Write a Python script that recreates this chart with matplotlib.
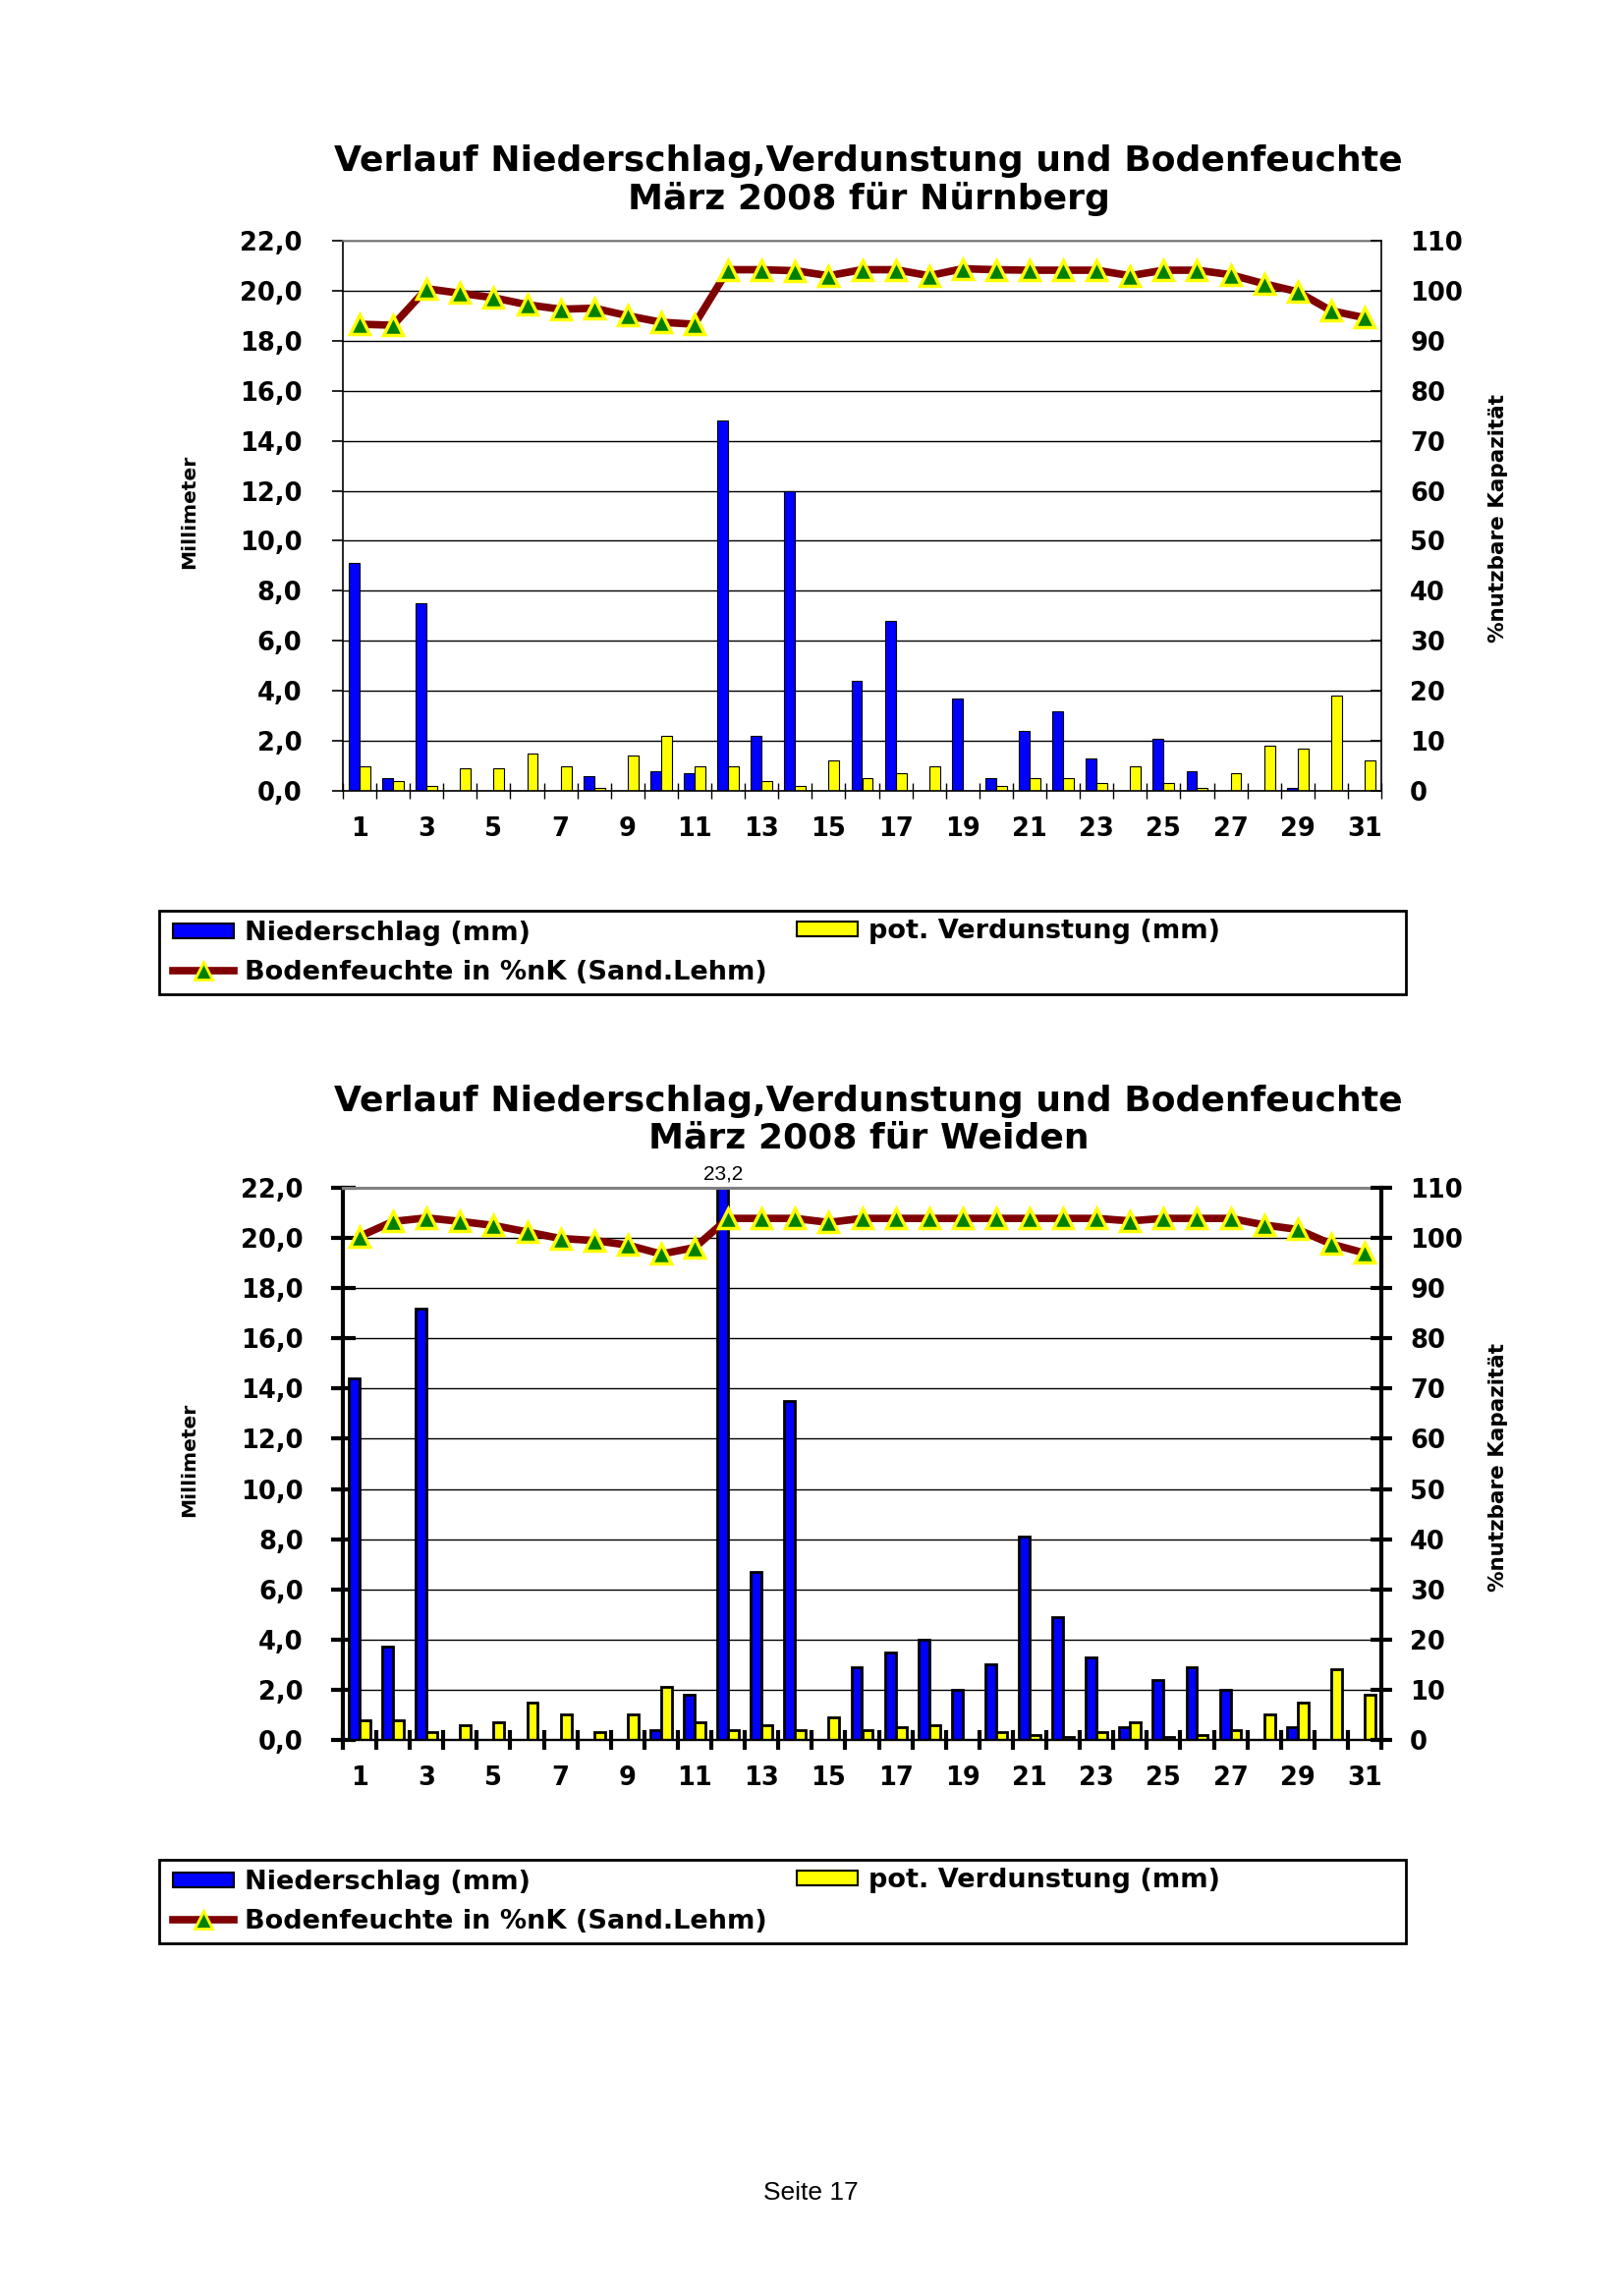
import numpy as np
import matplotlib.pyplot as plt
from matplotlib.patches import Patch, Rectangle
from matplotlib.lines import Line2D

# Tage im März 2008
days = np.arange(1, 32)

# Nürnberg
nbg_niederschlag = [9.1, 0.5, 7.5, 0.0, 0.0, 0.0, 0.0, 0.6, 0.0, 0.8, 0.7, 14.8, 2.2, 12.0, 0.0, 4.4,
                    6.8, 0.0, 3.7, 0.5, 2.4, 3.2, 1.3, 0.0, 2.1, 0.8, 0.0, 0.0, 0.1, 0.0, 0.0]
nbg_verdunstung = [1.0, 0.4, 0.2, 0.9, 0.9, 1.5, 1.0, 0.1, 1.4, 2.2, 1.0, 1.0, 0.4, 0.2, 1.2, 0.5,
                   0.7, 1.0, 0.0, 0.2, 0.5, 0.5, 0.3, 1.0, 0.3, 0.1, 0.7, 1.8, 1.7, 3.8, 1.2]
nbg_bodenfeuchte = [93.3, 93.1, 100.4, 99.5, 98.6, 97.2, 96.3, 96.5, 95.0, 93.7, 93.3, 104.2, 104.2,
                    104.0, 103.0, 104.2, 104.2, 103.0, 104.4, 104.2, 104.1, 104.1, 104.1, 103.0,
                    104.1, 104.1, 103.2, 101.4, 99.8, 96.0, 94.6]

# Weiden
wei_niederschlag = [14.4, 3.7, 17.2, 0.0, 0.0, 0.0, 0.0, 0.0, 0.0, 0.4, 1.8, 23.2, 6.7, 13.5, 0.0, 2.9,
                    3.5, 4.0, 2.0, 3.0, 8.1, 4.9, 3.3, 0.5, 2.4, 2.9, 2.0, 0.0, 0.5, 0.0, 0.0]
wei_verdunstung = [0.8, 0.8, 0.3, 0.6, 0.7, 1.5, 1.0, 0.3, 1.0, 2.1, 0.7, 0.4, 0.6, 0.4, 0.9, 0.4,
                   0.5, 0.6, 0.0, 0.3, 0.2, 0.1, 0.3, 0.7, 0.1, 0.2, 0.4, 1.0, 1.5, 2.8, 1.8]
wei_bodenfeuchte = [100.3, 103.3, 104.0, 103.3, 102.5, 101.2, 99.9, 99.5, 98.6, 96.8, 98.1, 103.9,
                    103.9, 103.9, 103.1, 103.9, 103.9, 103.9, 103.9, 103.9, 103.9, 103.9, 103.9,
                    103.4, 103.9, 103.9, 103.9, 102.6, 101.7, 98.8, 97.0]

title_1 = 'Verlauf Niederschlag,Verdunstung und Bodenfeuchte'
label_nied = 'Niederschlag (mm)'
label_verd = 'pot. Verdunstung (mm)'
label_boden = 'Bodenfeuchte in %nK (Sand.Lehm)'

W, H = 1653, 2337
BLUE = '#0000FF'
YELLOW = '#FFFF00'
DARKRED = '#800000'
GREEN = '#008000'


def fx(px):
    return px / W


def fy(py):
    return 1 - py / H


def mm_fmt(v):
    return f'{v:.1f}'.replace('.', ',')


def draw_chart(fig, top, bottom, station, nied, verd, boden, heavy, title_y):
    ax = fig.add_axes([fx(349), fy(bottom), fx(1406) - fx(349), fy(top) - fy(bottom)])
    ax2 = ax.twinx()

    spine_lw = 3.0 if heavy else 1.2
    edge_lw = 2.0 if heavy else 0.8

    bw = 0.32
    ax.bar(days - 0.16, nied, bw, color=BLUE, edgecolor='black', lw=edge_lw, zorder=2)
    ax.bar(days + 0.16, verd, bw, color=YELLOW, edgecolor='black', lw=edge_lw, zorder=2)
    ax.set_xlim(0.5, 31.5)
    ax.set_ylim(0, 22)
    ax.set_axisbelow(True)

    # values beyond the axis get a label above the plot
    for d, v in zip(days, nied):
        if v > 22:
            ax.annotate(mm_fmt(v), xy=(d - 0.16, 22), xytext=(0, 3), textcoords='offset points',
                        ha='center', va='bottom', fontsize=15, family='Liberation Sans',
                        annotation_clip=False)

    ax.set_yticks(np.arange(0, 23, 2))
    ax.set_yticklabels([mm_fmt(v) for v in np.arange(0, 23, 2)], fontsize=18.5, weight='bold')
    ax.yaxis.grid(True, color='black', lw=1.0)
    if heavy:
        ax.tick_params(axis='y', direction='inout', length=18, width=3, pad=20)
    else:
        ax.tick_params(axis='y', direction='out', length=8, width=1.2, pad=22)

    ax.set_xticks(days[::2])
    ax.set_xticklabels([str(d) for d in days[::2]], fontsize=18.5, weight='bold')
    ax.set_xticks(np.arange(0.5, 32, 1), minor=True)
    ax.tick_params(axis='x', which='major', length=0, pad=19)
    ax.tick_params(axis='x', which='minor', direction='inout',
                   length=14 if heavy else 11, width=spine_lw if heavy else 1.0)

    ax.spines['right'].set_visible(False)
    ax.spines['left'].set_linewidth(spine_lw)
    ax.spines['bottom'].set_linewidth(1.7 if heavy else 1.2)
    ax.spines['top'].set_color('#808080')
    ax.spines['top'].set_linewidth(2.2 if heavy else 1.2)

    ax2.plot(days, boden, color=DARKRED, lw=5.5, marker='^', ms=15, mfc=GREEN,
             mec=YELLOW, mew=2.5, zorder=3)
    ax2.set_ylim(0, 110)
    ax2.set_yticks(np.arange(0, 111, 10))
    ax2.set_yticklabels([str(v) for v in np.arange(0, 111, 10)], fontsize=18.5, weight='bold')
    if heavy:
        ax2.tick_params(axis='y', direction='inout', length=16, width=3, pad=13)
    else:
        ax2.tick_params(axis='y', direction='in', length=8, width=1.2, pad=21)
    for s in ['left', 'top', 'bottom']:
        ax2.spines[s].set_visible(False)
    ax2.spines['right'].set_linewidth(spine_lw)

    mid = (top + bottom) / 2
    fig.text(fx(884), fy(title_y), title_1, ha='center', va='center', fontsize=26, weight='bold')
    fig.text(fx(884), fy(title_y + 38), f'März 2008 für {station}', ha='center', va='center',
             fontsize=26, weight='bold')
    fig.text(fx(193), fy(mid - 4), 'Millimeter', rotation=90, ha='center', va='center',
             fontsize=14.5, weight='bold')
    fig.text(fx(1525), fy(mid + 3), '%nutzbare Kapazität', rotation=90, ha='center',
             va='center', fontsize=15.5, weight='bold')


def draw_legend(fig, box_top):
    box_bottom = box_top + 85
    fig.add_artist(Rectangle((fx(162), fy(box_bottom)), fx(1431) - fx(162),
                             fy(box_top) - fy(box_bottom), transform=fig.transFigure,
                             fill=False, lw=2, ec='black'))
    h_nied = Patch(facecolor=BLUE, edgecolor='black', lw=1.5)
    h_verd = Patch(facecolor=YELLOW, edgecolor='black', lw=1.5)
    h_boden = Line2D([], [], color=DARKRED, lw=5.5, marker='^', ms=13, mfc=GREEN,
                     mec=YELLOW, mew=2)
    opts = dict(loc='center left', frameon=False, borderpad=0, borderaxespad=0,
                handlelength=2.3, handleheight=0.5, handletextpad=0.4, labelspacing=0.5,
                numpoints=1, prop=dict(weight='bold', size=19.5))
    fig.legend([h_nied, h_boden], [label_nied, label_boden],
               bbox_to_anchor=(fx(176), fy(box_top + 43)), **opts)
    fig.legend([h_verd], [label_verd], bbox_to_anchor=(fx(811), fy(box_top + 21)), **opts)


fig = plt.figure(figsize=(W / 100, H / 100), dpi=100)

draw_chart(fig, 245, 805, 'Nürnberg', nbg_niederschlag, nbg_verdunstung, nbg_bodenfeuchte,
           False, 164)
draw_legend(fig, 927)
draw_chart(fig, 1209, 1771, 'Weiden', wei_niederschlag, wei_verdunstung, wei_bodenfeuchte,
           True, 1121)
draw_legend(fig, 1893)

fig.text(fx(825), fy(2232), 'Seite 17', ha='center', va='center', fontsize=19,
         family='Liberation Sans')

fig.savefig('out.png', dpi=100)
